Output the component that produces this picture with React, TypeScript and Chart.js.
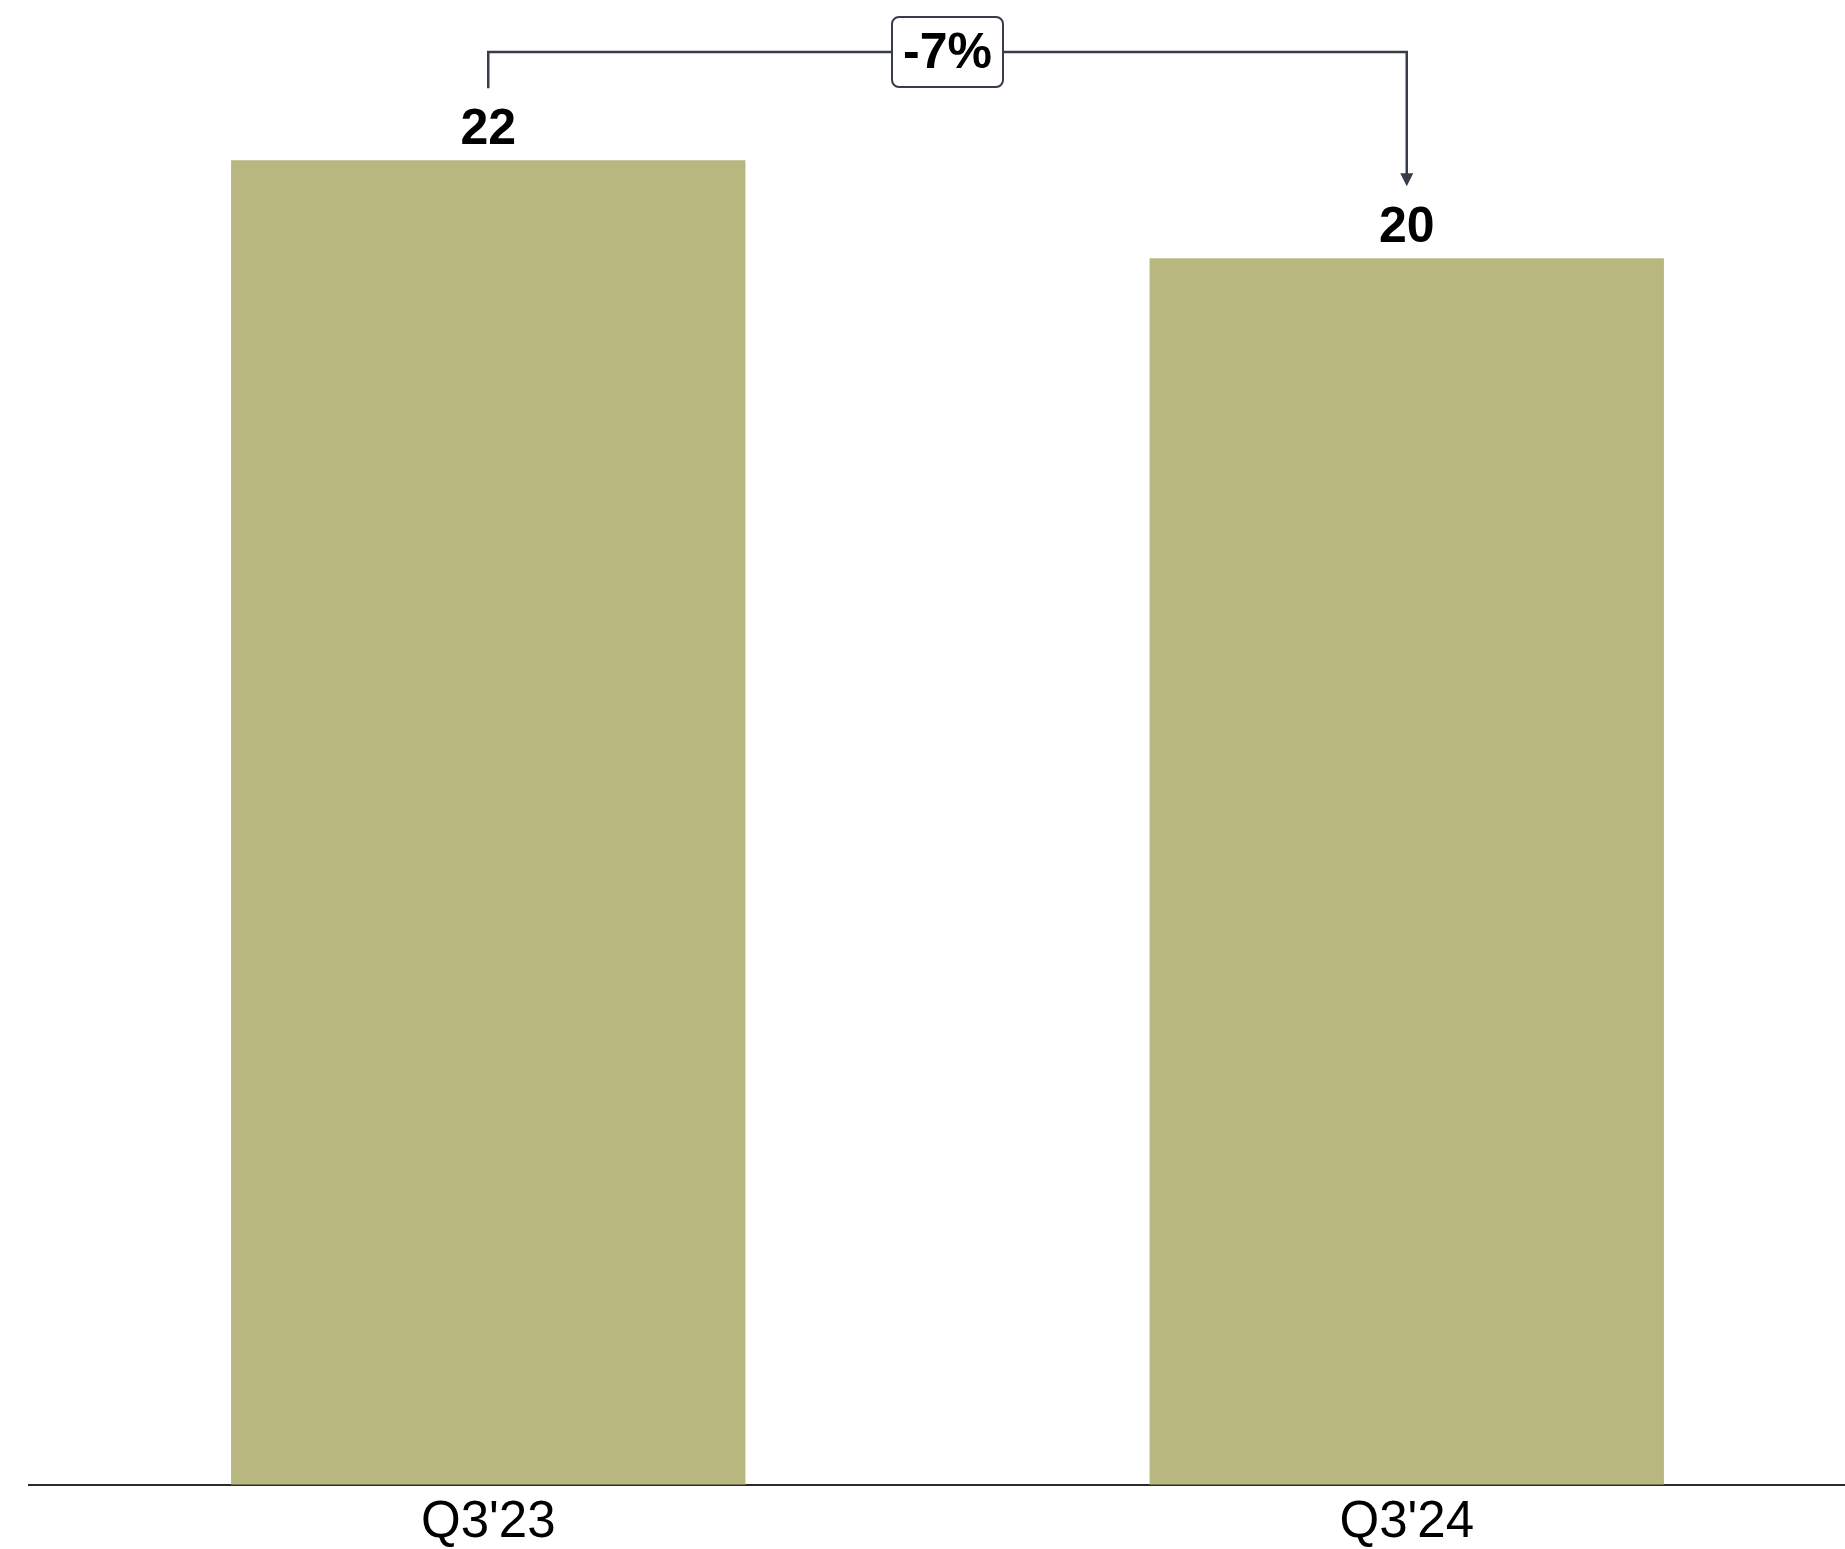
import React, { useEffect, useRef } from "react";
import { Chart, registerables } from "chart.js";

Chart.register(...registerables);

const categories = ["Q3'23", "Q3'24"];
const values = [21.6, 20.0];
const yMax = 24;

const BAR_COLOR = "#b7b77f";
const LINE_COLOR = "#363c48";
const FONT = "'Liberation Sans', Arial, sans-serif";

// Bold value labels above each bar plus the change bracket between the two bars.
const annotations = {
  id: "annotations",
  afterDatasetsDraw(chart: any) {
    const ctx = chart.ctx as CanvasRenderingContext2D;
    const meta = chart.getDatasetMeta(0);
    const bars = meta.data as any[];

    ctx.save();
    ctx.fillStyle = "#000";
    ctx.font = `bold 50px ${FONT}`;
    ctx.textAlign = "center";
    ctx.textBaseline = "alphabetic";
    bars.forEach((bar, i) => {
      ctx.fillText(String(Math.round(values[i])), bar.x, bar.y - 16);
    });

    // Bracket from first bar to second bar
    const a = bars[0];
    const b = bars[1];
    const lineY = 52;
    const gap = 72;
    ctx.strokeStyle = LINE_COLOR;
    ctx.lineWidth = 2.5;
    ctx.beginPath();
    ctx.moveTo(a.x, a.y - gap);
    ctx.lineTo(a.x, lineY);
    ctx.lineTo(b.x, lineY);
    ctx.lineTo(b.x, b.y - gap - 12);
    ctx.stroke();
    // arrow head
    ctx.fillStyle = LINE_COLOR;
    ctx.beginPath();
    ctx.moveTo(b.x - 6.5, b.y - gap - 13);
    ctx.lineTo(b.x + 6.5, b.y - gap - 13);
    ctx.lineTo(b.x, b.y - gap);
    ctx.closePath();
    ctx.fill();

    // change label box
    const pct = Math.round((values[1] / values[0] - 1) * 100);
    const text = `${pct}%`;
    const cx = (a.x + b.x) / 2;
    const bw = 111;
    const bh = 70;
    ctx.beginPath();
    (ctx as any).roundRect(cx - bw / 2, lineY - bh / 2, bw, bh, 7);
    ctx.fillStyle = "#fff";
    ctx.fill();
    ctx.lineWidth = 2;
    ctx.strokeStyle = LINE_COLOR;
    ctx.stroke();
    ctx.fillStyle = "#000";
    ctx.font = `bold 50px ${FONT}`;
    ctx.textAlign = "center";
    ctx.textBaseline = "middle";
    ctx.fillText(text, cx, lineY + 2);
    ctx.restore();
  },
};

export default function App() {
  const canvasRef = useRef<HTMLCanvasElement | null>(null);

  useEffect(() => {
    const canvas = canvasRef.current;
    if (!canvas) return;
    const chart = new Chart(canvas, {
      type: "bar",
      data: {
        labels: categories,
        datasets: [
          {
            data: values,
            backgroundColor: BAR_COLOR,
            borderWidth: 0,
            categoryPercentage: 1,
            barPercentage: 0.56,
          },
        ],
      },
      options: {
        responsive: false,
        animation: false,
        layout: { padding: { top: 13, left: 29, right: 0, bottom: 0 } },
        plugins: {
          legend: { display: false },
          tooltip: { enabled: false },
        },
        scales: {
          x: {
            grid: { display: false, drawTicks: false },
            border: { display: true, color: "#2a2a2a", width: 2 },
            ticks: {
              color: "#000",
              padding: 8,
              font: { family: FONT, size: 51 },
            },
          },
          y: {
            display: false,
            min: 0,
            max: yMax,
          },
        },
      },
      plugins: [annotations],
    });
    return () => chart.destroy();
  }, []);

  return (
    <div
      style={{
        position: "fixed",
        left: 0,
        top: 0,
        width: 1845,
        height: 1549,
        overflow: "hidden",
        background: "#fff",
      }}
    >
      <canvas
        ref={canvasRef}
        width={1866}
        height={1562}
        style={{ width: 1866, height: 1562, display: "block" }}
      />
    </div>
  );
}
